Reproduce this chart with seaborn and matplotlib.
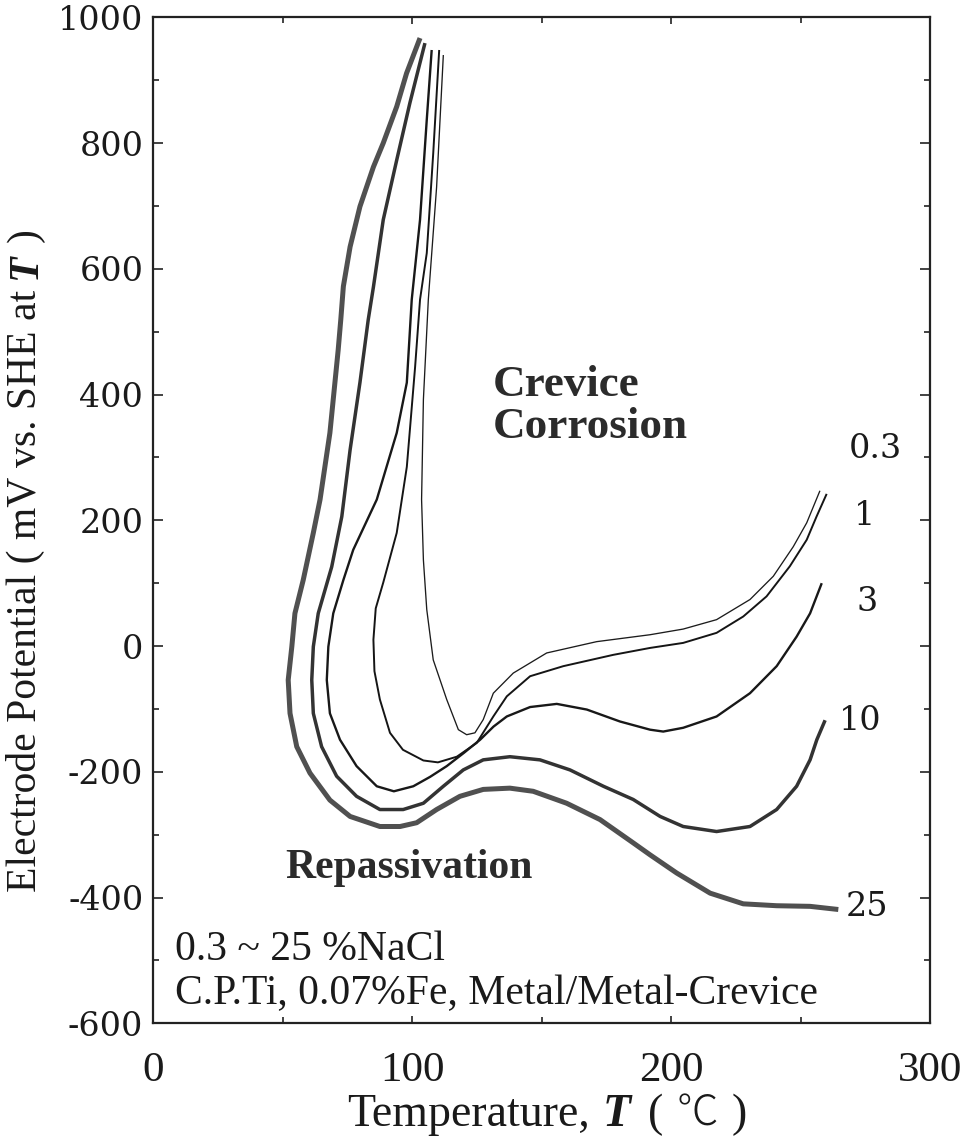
import matplotlib
matplotlib.use("Agg")
import matplotlib.pyplot as plt
import seaborn as sns
import pandas as pd
from matplotlib.ticker import MultipleLocator

# ---- data: repassivation potential curves, C.P.Ti in NaCl (T in degC, E in mV vs SHE)
conc_labels = ["0.3", "1", "3", "10", "25"]

T_03 = [112.1, 109.5, 106.3, 104.4, 103.7, 104.4, 105.7, 108.2, 113.4, 117.9, 121.1, 124.3,
        127.5, 131.4, 139.1, 152.0, 171.3, 191.9, 204.7, 217.6, 230.5, 239.5, 247.2, 252.4, 257.5]
E_03 = [940, 730, 551, 392, 233, 137, 58, -22, -85, -133, -141, -138,
        -117, -75, -43, -11, 7, 18, 27, 42, 74, 111, 158, 196, 247]

T_1 = [110.5, 108.2, 105.7, 103.1, 101.2, 98.0, 94.1, 88.9, 86.0, 85.1, 85.5, 87.6, 91.5, 96.5,
       104.4, 110.0, 117.3, 125.0, 131.4, 136.6, 145.6, 158.4, 177.7, 191.9, 204.7, 217.6,
       227.9, 236.9, 245.9, 252.4, 256.2, 260.1]
E_1 = [948, 784, 625, 551, 444, 285, 180, 101, 60, 10, -40, -85, -138, -165,
       -182, -185, -176, -154, -112, -80, -48, -32, -14, -3, 5, 21,
       47, 79, 127, 169, 206, 242]

T_3 = [107.6, 105.7, 103.1, 99.9, 98.0, 94.1, 86.4, 77.3, 73.5, 69.6, 67.7, 67.1, 68.3, 72.2,
       78.6, 86.4, 93.0, 100.5, 107.0, 113.4, 120.0, 126.3, 131.5, 136.6, 145.6, 155.9, 167.5,
       180.3, 191.9, 197.0, 204.7, 217.6, 230.5, 240.8, 248.5, 253.7, 258.2]
E_3 = [948, 837, 678, 551, 419, 339, 233, 153, 105, 52, -1, -54, -107, -149,
       -191, -223, -231, -223, -208, -191, -170, -149, -128, -112, -97, -92, -101,
       -120, -133, -136, -130, -112, -75, -32, 15, 52, 100]

T_10 = [105.0, 99.2, 94.1, 88.9, 85.1, 83.1, 79.9, 76.1, 72.9, 69.0, 63.8, 61.9, 61.3, 61.9,
        65.1, 70.9, 78.6, 87.6, 96.6, 104.4, 112.1, 119.8, 127.5, 137.8, 149.4, 161.0, 173.9,
        185.4, 195.8, 204.7, 217.6, 230.5, 240.8, 248.5, 253.7, 256.3, 259.5]
E_10 = [959, 864, 773, 678, 571, 519, 419, 312, 206, 126, 52, -1, -54, -107,
        -160, -207, -239, -260, -260, -250, -223, -197, -181, -176, -181, -197, -223,
        -244, -271, -287, -295, -287, -260, -223, -181, -149, -118]

T_25 = [103.1, 97.9, 94.1, 88.9, 85.1, 79.9, 76.1, 73.5, 72.5, 71.5, 68.3, 64.5, 61.9, 58.0,
        54.8, 53.6, 52.2, 52.9, 55.5, 60.6, 68.3, 76.1, 87.6, 95.4, 101.8, 109.5, 118.5, 127.5,
        137.8, 146.8, 159.7, 172.6, 185.4, 191.9, 202.2, 215.1, 227.9, 240.8, 253.7, 264.6]
E_25 = [967, 911, 858, 800, 762, 699, 635, 572, 519, 471, 339, 233, 180, 105,
        52, -1, -54, -107, -160, -202, -245, -271, -287, -287, -281, -260, -239, -228,
        -226, -231, -250, -276, -313, -332, -361, -393, -410, -413, -414, -419]

# where each concentration label sits (T, E)
label_T = [278.8, 274.8, 275.6, 273.2, 275.7]
label_E = [314, 207, 70, -120, -415]

curves = [(T_03, E_03), (T_1, E_1), (T_3, E_3), (T_10, E_10), (T_25, E_25)]
widths = [0.95, 1.4, 1.7, 2.5, 3.6]
colors = ["#1c1c1c", "#151515", "#181818", "#333333", "#505050"]

# ---- style
sns.set_theme(style="white")
plt.rcParams["font.family"] = ["Liberation Serif", "DejaVu Serif"]
plt.rcParams["axes.unicode_minus"] = False

W, H = 964, 1146
fig = plt.figure(figsize=(W / 100, H / 100), dpi=100)
fig.patch.set_facecolor("white")
ax = fig.add_axes([153 / W, 1 - 1023.3 / H, 777 / W, 1006 / H])

for (T, E), lw, c, name in zip(curves, widths, colors, conc_labels):
    df = pd.DataFrame({"T": T, "E": E})
    sns.lineplot(data=df, x="T", y="E", sort=False, estimator=None, ax=ax,
                 color=c, linewidth=lw, legend=False,
                 solid_capstyle="butt", solid_joinstyle="round")

ax.set_xlim(0, 300)
ax.set_ylim(-600, 1000)
ax.set_xlabel("")
ax.set_ylabel("")

ax.xaxis.set_major_locator(MultipleLocator(100))
ax.xaxis.set_minor_locator(MultipleLocator(50))
ax.yaxis.set_major_locator(MultipleLocator(200))
ax.yaxis.set_minor_locator(MultipleLocator(100))
ax.tick_params(which="both", direction="in", top=True, right=True, bottom=True, left=True,
               color="#222222")
ax.tick_params(axis="y", which="major", length=7.5, width=1.2, pad=7, labelsize=24,
               labelcolor="#1a1a1a")
ax.tick_params(axis="y", which="minor", length=4.5, width=1.2)
ax.tick_params(axis="x", which="major", length=5, width=1.2, pad=20, labelsize=31,
               labelcolor="#1a1a1a")
ax.tick_params(axis="x", which="minor", length=4, width=1.2)
for lbl in ax.get_yticklabels():
    lbl.set_fontfamily("DejaVu Serif")
for lbl in ax.get_xticklabels():
    lbl.set_fontfamily("Liberation Serif")
for s in ax.spines.values():
    s.set_linewidth(1.6)
    s.set_color("#222222")
ax.grid(False)

# concentration labels (wt% NaCl)
for name, tx, ey in zip(conc_labels, label_T, label_E):
    ax.text(tx, ey, name, ha="center", va="center", fontsize=24,
            family="DejaVu Serif", color="#1a1a1a")

# region annotations
bold = dict(fontweight="bold", family="Liberation Serif", color="#2b2b2b")
ax.text(131.3, 397, "Crevice", ha="left", va="baseline", fontsize=32.5, **bold)
ax.text(131.3, 331, "Corrosion", ha="left", va="baseline", fontsize=32.5, **bold)
ax.text(51.0, -369, "Repassivation", ha="left", va="baseline", fontsize=30, **bold)

note = dict(fontsize=30, family="Liberation Serif", color="#1a1a1a")
ax.text(8.5, -499, "0.3 ~ 25 %NaCl", ha="left", va="baseline", **note)
ax.text(8.5, -570, "C.P.Ti, 0.07%Fe, Metal/Metal-Crevice", ha="left", va="baseline", **note)


# ---- axis titles built from pieces (mixed fonts)
def rich_label(pieces, base, center, rotation):
    renderer = fig.canvas.get_renderer()
    texts = []
    cur = 0.0
    for s, kw, gap in pieces:
        if rotation == 0:
            x, y = cur, base
        else:
            x, y = base, cur
        t = fig.text(x / W, y / H, s, rotation=rotation, rotation_mode="anchor",
                     ha="left", va="baseline", **kw)
        bb = t.get_window_extent(renderer)
        end = bb.x1 if rotation == 0 else bb.y1
        cur = end + gap
        texts.append(t)
    total = cur - pieces[-1][2]
    shift = center - total / 2
    for t in texts:
        x, y = t.get_position()
        if rotation == 0:
            t.set_position((x + shift / W, y))
        else:
            t.set_position((x, y + shift / H))
    return texts


serif_x = dict(fontsize=33, family="Liberation Serif", color="#1a1a1a")
bi_x = dict(fontsize=33, family="Liberation Serif", fontweight="bold", fontstyle="italic",
            color="#1a1a1a")
cjk_x = dict(fontsize=30, family="Noto Sans CJK JP", fontweight="light", color="#1a1a1a")

serif_y = dict(fontsize=30, family="Liberation Serif", color="#1a1a1a")
bi_y = dict(fontsize=30, family="Liberation Serif", fontweight="bold", fontstyle="italic",
            color="#1a1a1a")

rich_label([("Temperature,", serif_x, 12), ("T", bi_x, 18), ("(", serif_x, 13),
            ("\u2103", cjk_x, 13), (")", serif_x, 0)],
           base=20, center=547, rotation=0)
rich_label([("Electrode Potential ( mV vs. SHE at", serif_y, 11), ("T", bi_y, 11),
            (")", serif_y, 0)],
           base=36, center=H - 560, rotation=90)

fig.savefig("out.png", dpi=100, facecolor="white")
